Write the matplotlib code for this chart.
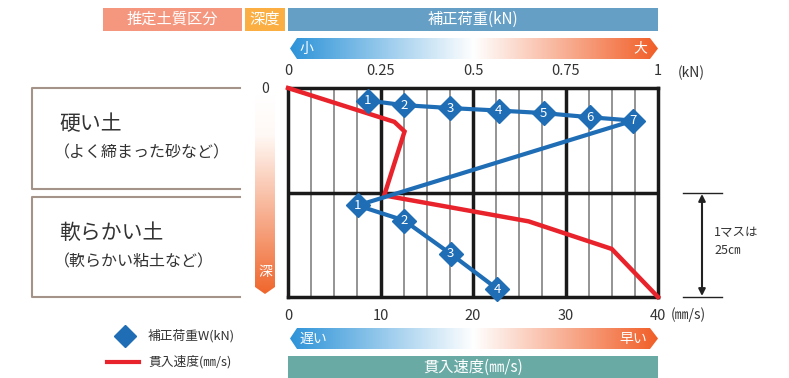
import numpy as np
import matplotlib.pyplot as plt
from matplotlib.patches import Polygon, Rectangle
from matplotlib.colors import LinearSegmentedColormap

plt.rcParams['font.family'] = ['Noto Sans CJK JP', 'DejaVu Sans']

# data
load_ticks = [0, 0.25, 0.5, 0.75, 1]
load_tick_labels = ['0', '0.25', '0.5', '0.75', '1']
speed_ticks = [0, 10, 20, 30, 40]

# corrected load W (kN) vs depth (cm)
hard_load = [0.215, 0.313, 0.439, 0.570, 0.691, 0.817, 0.933]
hard_depth = [3.0, 4.1, 4.8, 5.4, 6.0, 7.0, 7.8]
soft_load = [0.188, 0.314, 0.440, 0.566]
soft_depth = [28.1, 31.7, 39.7, 48.1]

# penetration speed (mm/s) vs depth (cm)
speed = [0, 11.5, 12.6, 10.4, 26.0, 35.0, 40]
speed_depth = [0, 8.1, 10.4, 25.7, 31.9, 38.5, 50]

soil_names = ['硬い土', '軟らかい土']
soil_notes = ['（よく締まった砂など）', '（軟らかい粘土など）']

blue = '#1F6DB5'
red = '#E8232B'
txt = '#333333'

W, H = 789, 378
fig = plt.figure(figsize=(W / 100, H / 100), dpi=100)
bg = fig.add_axes([0, 0, 1, 1])
bg.set_xlim(0, W)
bg.set_ylim(H, 0)
bg.set_autoscale_on(False)
bg.axis('off')


def box(x0, y0, x1, y1):
    return [x0 / W, 1 - y1 / H, (x1 - x0) / W, (y1 - y0) / H]


# header bars
for x0, x1, c, s in [(103, 242, '#F5977F', '推定土質区分'),
                     (245, 285, '#FBAE42', '深度'),
                     (288, 658, '#659FC6', '補正荷重(kN)')]:
    bg.add_patch(Rectangle((x0, 8), x1 - x0, 23, color=c, lw=0))
    bg.text((x0 + x1) / 2, 19.5, s, color='white', fontsize=11,
            ha='center', va='center')

# gradient arrows
cm_h = LinearSegmentedColormap.from_list('bo', ['#2D93D8', '#FFFFFF', '#F15E27'])
cm_v = LinearSegmentedColormap.from_list('dv', [(0, '#FFFFFF'), (0.2, '#FFF9F5'), (1, '#F0662C')])
grad = np.linspace(0, 1, 256)


def grad_arrow(y0, y1, left, right):
    ym = (y0 + y1) / 2
    poly = Polygon([(290, ym), (297, y0), (650, y0), (658, ym), (650, y1), (297, y1)],
                   closed=True, fc='none', ec='none')
    bg.add_patch(poly)
    im = bg.imshow(grad.reshape(1, -1), cmap=cm_h, extent=(290, 658, y1, y0),
                   aspect='auto', zorder=1)
    im.set_clip_path(poly)
    bg.text(300, ym, left, color='white', fontsize=10, ha='left', va='center', zorder=2)
    bg.text(647, ym, right, color='white', fontsize=10, ha='right', va='center', zorder=2)


grad_arrow(38, 59, '小', '大')
grad_arrow(328, 349, '遅い', '早い')

# bottom teal bar
bg.add_patch(Rectangle((288, 356), 370, 22, color='#69AAA5', lw=0))
bg.text(473, 367, '貫入速度(㎜/s)', color='white', fontsize=11, ha='center', va='center')

# depth bar
dpoly = Polygon([(255, 95), (275, 95), (275, 287), (265, 294), (255, 287)],
                closed=True, fc='none', ec='none')
bg.add_patch(dpoly)
im = bg.imshow(grad.reshape(-1, 1), cmap=cm_v, extent=(255, 275, 294, 95),
               aspect='auto', zorder=1)
im.set_clip_path(dpoly)
bg.text(265, 89, '0', color=txt, fontsize=10, ha='center', va='center')
bg.text(265, 272, '深', color='white', fontsize=10, ha='center', va='center', zorder=2)

# soil boxes
for (y0, y1), name, note in zip([(88, 189), (197, 297)], soil_names, soil_notes):
    bg.plot([240, 32, 32, 240], [y0, y0, y1, y1], color='#A39388', lw=1.5)
    bg.text(59, y0 + 36, name, color=txt, fontsize=15, ha='left', va='center')
    bg.text(54, y0 + 65, note, color=txt, fontsize=11.5, ha='left', va='center')

# scale annotation
for y in (193, 297):
    bg.plot([683, 722], [y, y], color='#222222', lw=1)
bg.annotate('', xy=(702, 194), xytext=(702, 296),
            arrowprops=dict(arrowstyle='<|-|>', color='#222222', lw=1.5,
                            mutation_scale=10, shrinkA=0, shrinkB=0))
bg.text(714, 232, '1マスは', color=txt, fontsize=9, ha='left', va='center')
bg.text(714, 250, '25㎝', color=txt, fontsize=9, ha='left', va='center')

# legend
bg.plot(125, 336, marker='D', ms=11.5, color=blue, ls='none')
bg.text(148, 336, '補正荷重W(kN)', color=txt, fontsize=9.2, ha='left', va='center')
bg.plot([107, 139], [362, 362], color=red, lw=3)
bg.text(148, 362, '貫入速度(㎜/s)', color=txt, fontsize=9.2, ha='left', va='center')

# axis unit labels
bg.text(678, 73, '(kN)', color=txt, fontsize=10, ha='left', va='center')
bg.text(671, 315, '(㎜/s)', color=txt, fontsize=10, ha='left', va='center')

# main chart: speed axis (bottom)
ax = fig.add_axes(box(288, 88, 658, 297))
ax.set_zorder(2)
ax.set_xlim(0, 40)
ax.set_ylim(50, 0)
for v in np.arange(2.5, 40, 2.5):
    if v % 10:
        ax.axvline(v, color='#777777', lw=1.1, zorder=1)
    else:
        ax.axvline(v, color='#1a1a1a', lw=2.5, zorder=1)
ax.axhline(25, color='#1a1a1a', lw=2.5, zorder=1)
for sp in ax.spines.values():
    sp.set_linewidth(2.5)
    sp.set_color('#1a1a1a')
ax.set_xticks(speed_ticks)
ax.set_yticks([])
ax.tick_params(axis='x', length=0, pad=9, labelsize=10.5, labelcolor=txt)
ax.plot(speed, speed_depth, color=red, lw=3.2, zorder=3, clip_on=False,
        solid_joinstyle='miter')

# load axis (top)
ax2 = ax.twiny()
ax2.set_zorder(3)
ax2.set_xlim(0, 1)
ax2.set_ylim(50, 0)
ax2.set_xticks(load_ticks)
ax2.set_xticklabels(load_tick_labels)
ax2.set_yticks([])
ax2.tick_params(axis='x', length=0, pad=7, labelsize=10.5, labelcolor=txt)
for sp in ax2.spines.values():
    sp.set_visible(False)

loads = hard_load + soft_load
depths = hard_depth + soft_depth
labels = [str(i + 1) for i in range(len(hard_load))] + [str(i + 1) for i in range(len(soft_load))]
ax2.plot(loads, depths, color=blue, lw=3, marker='D', ms=12, zorder=4, clip_on=False)
for x, y, s in zip(loads, depths, labels):
    ax2.text(x, y, s, color='white', fontsize=9.5, ha='center', va='center', zorder=5)

fig.savefig('out.png', dpi=100)
